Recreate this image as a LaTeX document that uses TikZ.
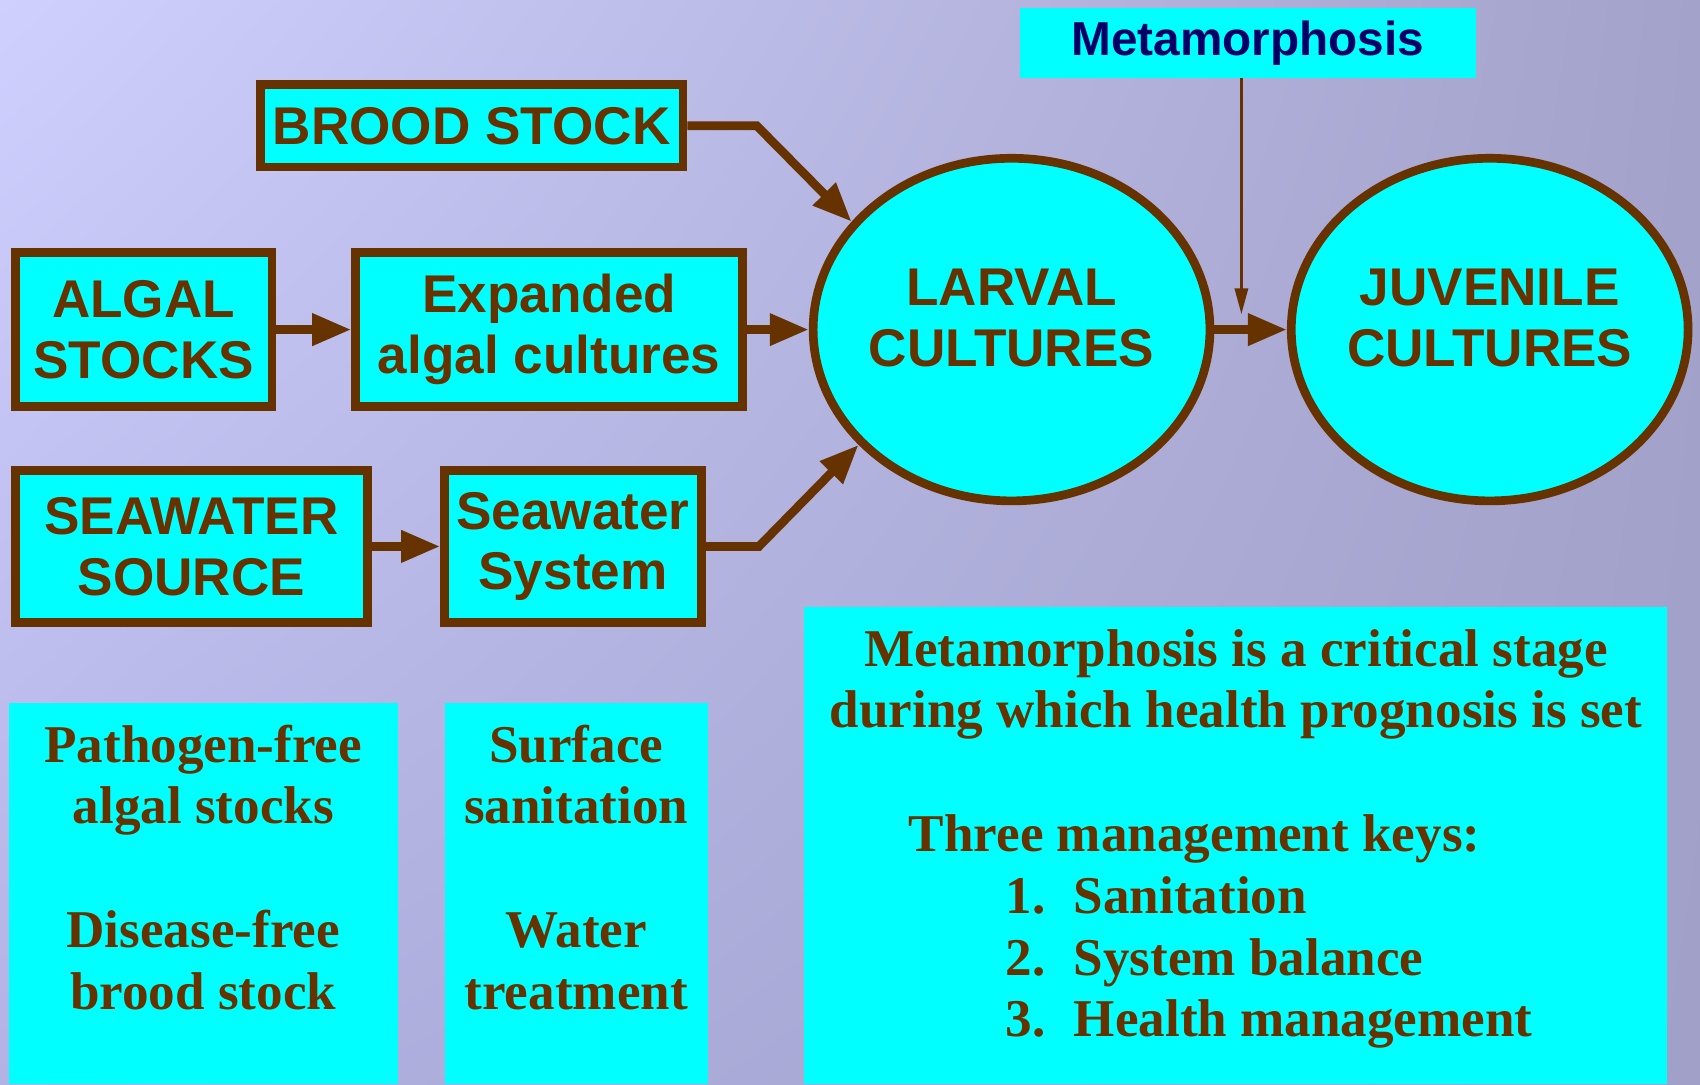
\documentclass[tikz,border=0pt]{standalone}
\usepackage{fontspec}
\usepackage{tikz}
\usetikzlibrary{arrows.meta,shapes.geometric,positioning,shadings}
\newfontfamily\boxfont{Liberation Sans}
\newfontfamily\notefont{Liberation Serif}
\definecolor{bark}{RGB}{102,51,0}
\definecolor{aqua}{RGB}{0,255,255}
\definecolor{inkblue}{RGB}{0,0,102}
\definecolor{bgtl}{RGB}{208,208,255}
\definecolor{bgtr}{RGB}{162,162,202}
\definecolor{bgbl}{RGB}{178,178,228}
\definecolor{bgbr}{RGB}{160,160,200}

\begin{document}
\begin{tikzpicture}[x=0.5pt,y=-0.5pt,
  stockbox/.style={draw=bark,line width=4pt,fill=aqua,inner sep=0pt,align=center,text=bark,font=\boxfont\bfseries\fontsize{24.5}{28}\selectfont},
  culture/.style={ellipse,draw=bark,line width=4pt,fill=aqua,inner sep=0pt,minimum width=183pt,minimum height=158pt},
  cultext/.style={align=center,text=bark,inner sep=0pt,font=\boxfont\bfseries\fontsize{24.5}{28}\selectfont},
  notebox/.style={fill=aqua,inner sep=0pt},
  notetext/.style={text=bark,inner sep=0pt,font=\notefont\bfseries\fontsize{24.5}{28.5}\selectfont},
  feed/.style={draw=bark,line width=4pt,-{Triangle[length=18pt,width=14pt]}},
]
\useasboundingbox (0,0) rectangle (1568,1000);
%background
\shade[upper left=bgtl,upper right=bgtr,lower left=bgbl,lower right=bgbr] (0,0) rectangle (1568,1000);

%Shape: Boxes
\node (brood) at (435,116) [stockbox,minimum width=195pt,minimum height=38pt] {BROOD STOCK};
\node (algal) at (132.5,304) [stockbox,minimum width=118.5pt,minimum height=71pt] {ALGAL\\STOCKS};
\node (expanded) at (506.5,304) [stockbox,minimum width=178.5pt,minimum height=71pt] {Expanded\\algal cultures};
\node (seasrc) at (176.5,504) [stockbox,minimum width=162.5pt,minimum height=70pt] {SEAWATER\\SOURCE};
\node (seasys) at (528.5,504) [stockbox,minimum width=118.5pt,minimum height=70pt] {Seawater\\System};

%Shape: Ellipses
\node (larval) at (933,304) [culture] {};
\node (juvenile) at (1374,304) [culture] {};
\node (larvaltext) at ([yshift=5.5pt]larval.center) [cultext] {LARVAL\\CULTURES};
\node (juveniletext) at ([yshift=5.5pt]juvenile.center) [cultext] {JUVENILE\\CULTURES};

%Shape: Metamorphosis tag
\node (meta) at (1151,39.5) [notebox,minimum width=210pt,minimum height=32.5pt,text=inkblue,font=\boxfont\bfseries\fontsize{22}{26}\selectfont] {Metamorphosis};

%Shape: Notes
\node (pfbox) at (187.5,824) [notebox,minimum width=179.5pt,minimum height=176pt] {};
\node (stbox) at (531.5,824) [notebox,minimum width=121.5pt,minimum height=176pt] {};
\node (keybox) at (1140,780) [notebox,minimum width=398pt,minimum height=220pt] {};

% Text Node
\node (pftext) at (187.5,668) [notetext,anchor=north,align=center] {Pathogen-free\\algal stocks\\[28.5pt]Disease-free\\brood stock};
% Text Node
\node (sttext) at (531.5,668) [notetext,anchor=north,align=center] {Surface\\sanitation\\[28.5pt]Water\\treatment};
% Text Node
\node (stagetext) at (1140,580) [notetext,anchor=north,align=center] {Metamorphosis is a critical stage\\during which health prognosis is set};
% Text Node
\node (keytext) at (838,751) [notetext,anchor=north west,align=left] {Three management keys:\\
  \hspace*{44.5pt}\makebox[31.5pt][l]{1.}Sanitation\\
  \hspace*{44.5pt}\makebox[31.5pt][l]{2.}System balance\\
  \hspace*{44.5pt}\makebox[31.5pt][l]{3.}Health management};

%Arrows
\coordinate (broodbend) at (698,116);
\coordinate (seabend) at (700,504);
\coordinate (metatip) at (1145,290);
\draw[feed] (algal.east) -- (expanded.west);
\draw[feed] (expanded.east) -- (larval.west);
\draw[feed] (seasrc.east) -- (seasys.west);
\draw[feed] (larval.east) -- (juvenile.west);
\draw[feed] (brood.east) -- (broodbend) -- (larval.146);
\draw[feed] (seasys.east) -- (seabend) -- (larval.217);
\draw[draw=bark,line width=1.5pt,-{Triangle[length=12pt,width=6pt]}] (meta.south -| metatip) -- (metatip);

\end{tikzpicture}
\end{document}
